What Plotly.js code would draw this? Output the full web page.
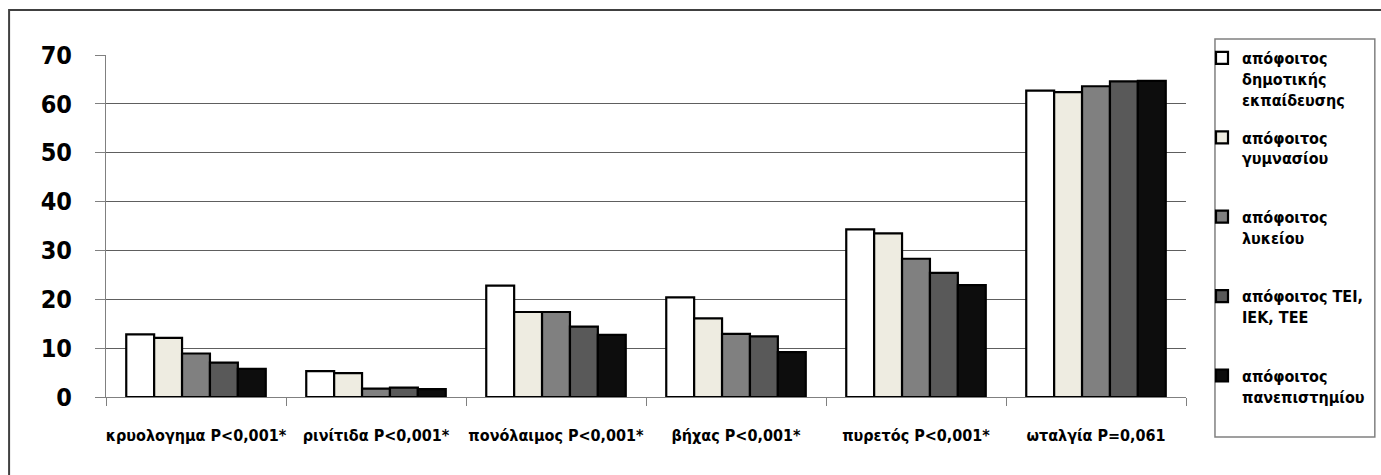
<!DOCTYPE html>
<html>
<head>
<meta charset="utf-8">
<script src="https://cdn.plot.ly/plotly-3.0.1.min.js"></script>
<style>
html,body{margin:0;padding:0;background:#fff;}
#chart{width:1381px;height:475px;}
</style>
</head>
<body>
<div id="chart"></div>
<script>
const categories = ["κρυολογημα P<0,001*", "ρινίτιδα P<0,001*", "πονόλαιμος P<0,001*", "βήχας P<0,001*", "πυρετός P<0,001*", "ωταλγία P=0,061"];
const seriesNames = [
  "απόφοιτος<br>δημοτικής<br>εκπαίδευσης",
  "απόφοιτος<br>γυμνασίου<br>\u00a0",
  "απόφοιτος<br>λυκείου<br>\u00a0",
  "απόφοιτος ΤΕΙ,<br>ΙΕΚ, ΤΕΕ<br>\u00a0",
  "απόφοιτος<br>πανεπιστημίου"
];
const primary    = [12.8, 5.3, 22.8, 20.4, 34.3, 62.7];
const gymnasium  = [12.1, 4.9, 17.4, 16.1, 33.5, 62.4];
const lyceum     = [8.9, 1.7, 17.4, 12.9, 28.3, 63.6];
const tei        = [7.05, 1.9, 14.4, 12.4, 25.4, 64.6];
const university = [5.75, 1.6, 12.7, 9.2, 22.9, 64.7];
const yTicks = [0, 10, 20, 30, 40, 50, 60, 70];

const values = [primary, gymnasium, lyceum, tei, university];
const colors = ["#ffffff", "#eeece1", "#808080", "#595959", "#0d0d0d"];
const FONT = "'Liberation Sans Narrow', 'DejaVu Sans Condensed', Roboto, sans-serif";

const traces = values.map((v, i) => ({
  type: "bar",
  x: categories,
  y: v,
  name: seriesNames[i],
  legendgroup: "g" + i,
  marker: {color: colors[i], line: {color: "#000000", width: 2.2}},
  hoverinfo: "y"
}));

const W = 1381, H = 475;
const L = 106, R = 1187, T = 55, B = 397;
const px = x => (x - L) / (R - L);
const py = y => (B - y) / (B - T);

const layout = {
  width: W, height: H,
  margin: {l: L, r: W - R, t: T, b: H - B, pad: 0},
  paper_bgcolor: "#ffffff",
  plot_bgcolor: "#ffffff",
  barmode: "group",
  bargap: 0.225,
  bargroupgap: 0,
  showlegend: true,
  font: {family: FONT, color: "#000000"},
  xaxis: {
    type: "category",
    tickson: "boundaries",
    ticks: "outside",
    ticklen: 8,
    tickcolor: "#808080",
    tickangle: 0,
    showline: true,
    linecolor: "#808080",
    linewidth: 1,
    showgrid: false,
    tickfont: {family: FONT, size: 16, color: "#000000", weight: "bold"},
    ticklabelstandoff: 24,
    fixedrange: true
  },
  yaxis: {
    range: [0, 70],
    tickvals: yTicks,
    ticktext: yTicks.map(String),
    ticks: "outside",
    ticklen: 10,
    tickcolor: "#808080",
    showline: true,
    linecolor: "#808080",
    linewidth: 1,
    showgrid: true,
    gridcolor: "#5e5e5e",
    gridwidth: 1,
    zeroline: false,
    tickfont: {family: FONT, size: 25, color: "#000000", weight: "bold"},
    ticklabelstandoff: 18,
    fixedrange: true
  },
  legend: {
    x: px(1202), xanchor: "left",
    y: py(41), yanchor: "top",
    bgcolor: "rgba(0,0,0,0)",
    borderwidth: 0,
    valign: "top",
    tracegroupgap: 14,
    itemwidth: 30,
    maxheight: 440,
    font: {family: FONT, size: 16, color: "#000000", weight: "bold"}
  },
  shapes: [
    {type: "rect", xref: "paper", yref: "paper",
     x0: px(1216), x1: px(1376), y0: py(437), y1: py(39),
     line: {color: "#808080", width: 1.5}, fillcolor: "rgba(0,0,0,0)", layer: "below"},
    {type: "rect", xref: "paper", yref: "paper",
     x0: px(9), x1: px(1390), y0: py(490), y1: py(10),
     line: {color: "#404040", width: 2}, fillcolor: "rgba(0,0,0,0)", layer: "below"}
  ]
};

Plotly.newPlot("chart", traces, layout, {displayModeBar: false, staticPlot: true});
</script>
</body>
</html>
